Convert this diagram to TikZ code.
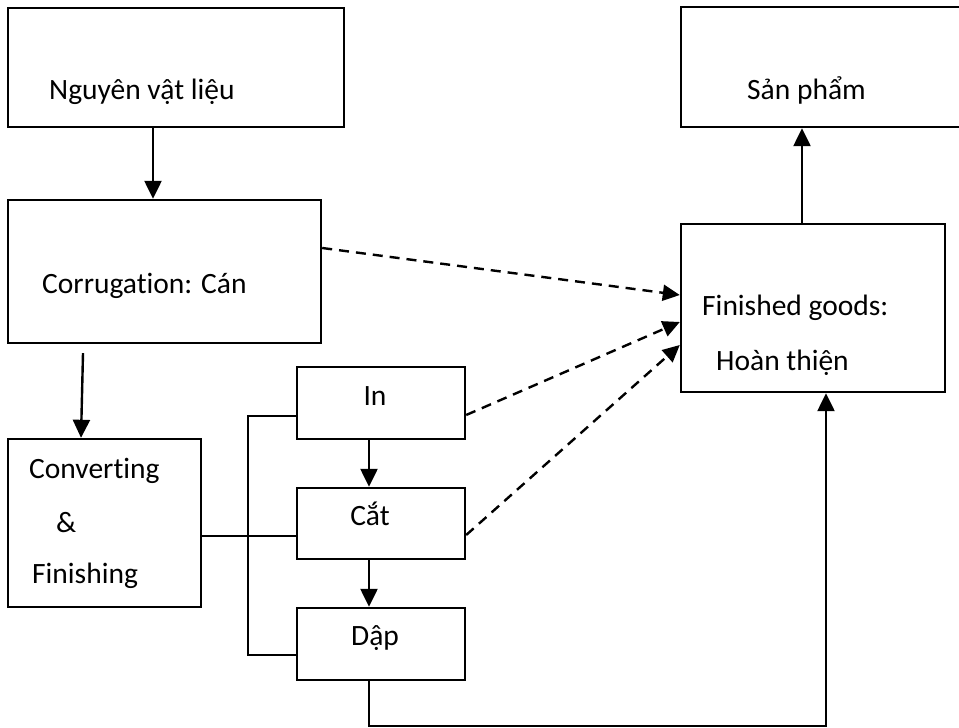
\documentclass[tikz,border=0pt]{standalone}
\usepackage{fontspec}
\setmainfont[Ligatures=NoCommon]{Carlito}
\usetikzlibrary{arrows.meta}
\begin{document}
\begin{tikzpicture}[x=1bp,y=-1bp,
  box/.style={draw, line width=2.4bp, inner sep=0pt},
  lbl/.style={inner sep=0pt, font=\fontsize{29.5bp}{35bp}\selectfont},
  arr/.style={line width=2.4bp, -{Triangle[length=18bp,width=17bp]}},
  darr/.style={line width=2.4bp, dash pattern=on 10bp off 7bp, -{Triangle[length=17bp,width=16bp]}},
  link/.style={line width=2bp}]
\useasboundingbox (0,0) rectangle (959,728);

% process boxes
\node[box, minimum width=336bp, minimum height=119bp] (raw)  at (176,67.5) {};
\node[box, minimum width=313bp, minimum height=143bp] (corr) at (164.5,271.5) {};
\node[box, minimum width=193bp, minimum height=168bp] (conv) at (104.5,523) {};
\node[box, minimum width=168bp, minimum height=72bp]  (in)   at (381,403) {};
\node[box, minimum width=168bp, minimum height=71bp]  (cat)  at (381,523.5) {};
\node[box, minimum width=168bp, minimum height=72bp]  (dap)  at (381,644) {};
\node[box, minimum width=294bp, minimum height=120bp] (sp)   at (828,67) {};
\node[box, minimum width=264bp, minimum height=168bp] (fg)   at (813,308) {};

% labels
\node[lbl, anchor=base west] (traw)  at (49,100)  {Nguyên vật liệu};
\node[lbl, anchor=base west] (tcorr) at (42,293)  {Corrugation: Cán};
\node[lbl, anchor=base west] (tsp)   at (747,100) {Sản phẩm};
\node[lbl, anchor=base west] (tfg1)  at (702,315) {Finished goods:};
\node[lbl, anchor=base west] (tfg2)  at (716,370) {Hoàn thiện};
\node[lbl, anchor=base west] (tcv1)  at (29,478)  {Converting};
\node[lbl, anchor=base west] (tcv2)  at (56,532)  {\&};
\node[lbl, anchor=base west] (tcv3)  at (32,583)  {Finishing};
\node[lbl, anchor=base] (tin)  at (375,405) {In};
\node[lbl, anchor=base] (tcat) at (370,525) {Cắt};
\node[lbl, anchor=base] (tdap) at (375,645) {Dập};

% main flow
\draw[arr] ([xshift=-23bp]raw.south) -- ([xshift=-23bp]raw.south |- corr.north);
\draw[arr] ([xshift=-81.5bp,yshift=-9bp]corr.south) -- ([xshift=-23.5bp]conv.north);
\draw[arr] ([xshift=-12bp]in.south) -- ([xshift=-12bp]cat.north);
\draw[arr] ([xshift=-12bp]cat.south) -- ([xshift=-12bp]dap.north);
\draw[arr] ([xshift=-11bp]fg.north) -- ([xshift=-11bp]fg.north |- sp.south);

% converting & finishing branches to its three steps
\draw[link] ([yshift=-13bp]conv.east) -- ([yshift=-12.5bp]cat.west);
\draw[link] ([yshift=-13bp]in.west) -- ++(-48,0) |- ([yshift=-11bp]dap.west);

% dashed feeds into finished goods
\draw[darr] ([yshift=23.5bp]corr.east) -- ([yshift=13bp]fg.west);
\draw[darr] ([yshift=-12bp]in.east) -- ([yshift=-14bp]fg.west);
\draw[darr] ([yshift=-11.5bp]cat.east) -- ([yshift=-37bp]fg.west);

% return path from stamping to finished goods
\coordinate (low) at (0,726);
\draw[arr] ([xshift=-12bp]dap.south) -- ([xshift=-12bp]dap.south |- low) -| ([xshift=13bp]fg.south);
\end{tikzpicture}
\end{document}
